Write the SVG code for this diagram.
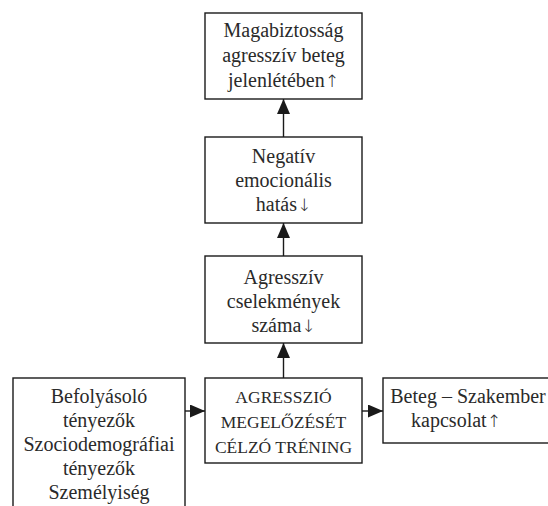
<svg xmlns="http://www.w3.org/2000/svg" width="548" height="506" viewBox="0 0 548 506">
<style>
.box{fill:#fff;stroke:#1a1a1a;stroke-width:1.4}
.t{font-family:"Liberation Serif","Times New Roman",serif;font-size:20px;fill:#2a2a2a;text-anchor:middle}
.c{font-size:17.5px}
.ar{font-family:"DejaVu Sans",sans-serif;font-size:17px;font-weight:300}
.conn{stroke:#1a1a1a;stroke-width:1.4;fill:none}
</style>
<defs>
<marker id="ah" viewBox="0 0 15 13" refX="15" refY="6.5" markerWidth="15" markerHeight="13" markerUnits="userSpaceOnUse" orient="auto">
<path d="M0,0 L15,6.5 L0,13 Z" fill="#1a1a1a"/>
</marker>
</defs>
<rect width="548" height="506" fill="#fff"/>
<g id="n1">
<rect class="box" x="205" y="13" width="157" height="86"/>
<text class="t" x="283.5" y="37">Magabiztosság</text>
<text class="t" x="283.5" y="62">agresszív beteg</text>
<text class="t" x="283.5" y="87">jelenlétében<tspan class="ar">↑</tspan></text>
</g>
<g id="n2">
<rect class="box" x="205" y="137" width="157" height="86"/>
<text class="t" x="283.5" y="163">Negatív</text>
<text class="t" x="283.5" y="187">emocionális</text>
<text class="t" x="283.5" y="211">hatás<tspan class="ar">↓</tspan></text>
</g>
<g id="n3">
<rect class="box" x="205" y="256" width="157" height="87"/>
<text class="t" x="283.5" y="284">Agresszív</text>
<text class="t" x="283.5" y="308">cselekmények</text>
<text class="t" x="283.5" y="332">száma<tspan class="ar">↓</tspan></text>
</g>
<g id="n4">
<rect class="box" x="205" y="378" width="157" height="85"/>
<text class="t c" x="283.5" y="403">AGRESSZIÓ</text>
<text class="t c" x="283.5" y="428">MEGELŐZÉSÉT</text>
<text class="t c" x="283.5" y="453">CÉLZÓ TRÉNING</text>
</g>
<g id="n5">
<rect class="box" x="13" y="378" width="172" height="140"/>
<text class="t" x="99" y="403">Befolyásoló</text>
<text class="t" x="99" y="427">tényezők</text>
<text class="t" x="99" y="451">Szociodemográfiai</text>
<text class="t" x="99" y="475">tényezők</text>
<text class="t" x="99" y="499">Személyiség</text>
</g>
<g id="n6">
<rect class="box" x="383" y="378" width="180" height="65"/>
<text class="t" x="468" y="403">Beteg – Szakember</text>
<text class="t" x="456" y="427">kapcsolat<tspan class="ar">↑</tspan></text>
</g>
<g id="connectors">
<line class="conn" x1="283.5" y1="137" x2="283.5" y2="99" marker-end="url(#ah)"/>
<line class="conn" x1="283.5" y1="256" x2="283.5" y2="223" marker-end="url(#ah)"/>
<line class="conn" x1="283.5" y1="378" x2="283.5" y2="343" marker-end="url(#ah)"/>
<line class="conn" x1="185" y1="411" x2="205" y2="411" marker-end="url(#ah)"/>
<line class="conn" x1="362" y1="411" x2="383" y2="411" marker-end="url(#ah)"/>
</g>
</svg>
